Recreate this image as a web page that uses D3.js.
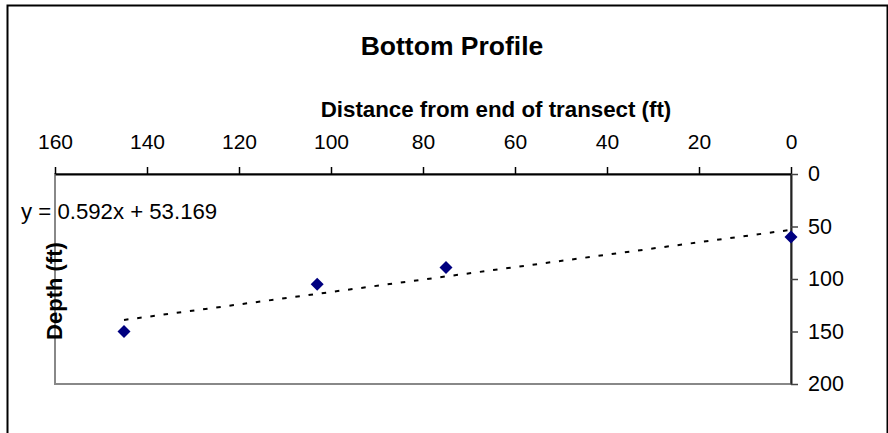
<!DOCTYPE html>
<html>
<head>
<meta charset="utf-8">
<script src="https://cdn.jsdelivr.net/npm/d3@7"></script>
<style>
  html, body { margin: 0; padding: 0; background: #fff; }
  svg { display: block; font-family: "Liberation Sans", Arial, sans-serif; }
</style>
</head>
<body>
<svg id="chart" width="888" height="433"></svg>
<script>
// Survey points along the transect
const distance = [145, 103, 75, 0];   // ft from end of transect
const depth = [150, 105, 89, 60];     // ft

// Axis ticks
const xTicks = [160, 140, 120, 100, 80, 60, 40, 20, 0];
const yTicks = [0, 50, 100, 150, 200];

// Linear trend line (least squares fit shown on the chart)
const trendSlope = [0.592];
const trendIntercept = [53.169];
const trendRange = [145, 0];

const svg = d3.select("#chart");

// Outer chart frame
svg.append("rect")
  .attr("x", 7.5).attr("y", 5.5)
  .attr("width", 880).attr("height", 440)
  .attr("fill", "none").attr("stroke", "#000").attr("stroke-width", 2);

const plot = { left: 55, right: 791, top: 174, bottom: 384 };

const x = d3.scaleLinear().domain([160, 0]).range([plot.left, plot.right]);
const y = d3.scaleLinear().domain([0, 200]).range([plot.top, plot.bottom]);

// Plot area border (gray)
svg.append("rect")
  .attr("x", plot.left).attr("y", plot.top)
  .attr("width", plot.right - plot.left).attr("height", plot.bottom - plot.top)
  .attr("fill", "none").attr("stroke", "#888").attr("stroke-width", 2);

// Title
svg.append("text")
  .attr("x", 452).attr("y", 55)
  .attr("text-anchor", "middle")
  .attr("font-size", 26.5).attr("font-weight", "bold")
  .text("Bottom Profile");

// Top x axis
const xAxis = svg.append("g")
  .attr("transform", `translate(0,${plot.top})`)
  .call(d3.axisTop(x).tickValues(xTicks).tickSize(7).tickSizeOuter(0).tickPadding(18));
xAxis.select(".domain").attr("stroke", "#000").attr("stroke-width", 2);
xAxis.selectAll(".tick line").attr("stroke", "#000").attr("stroke-width", 1.5);
xAxis.selectAll(".tick text")
  .attr("font-size", 21).attr("font-family", "Liberation Sans, Arial, sans-serif")
  .attr("fill", "#000").attr("dy", "0em");

svg.append("text")
  .attr("x", 496).attr("y", 117)
  .attr("text-anchor", "middle")
  .attr("font-size", 22.3).attr("font-weight", "bold")
  .text("Distance from end of transect (ft)");

// Right y axis
const yAxis = svg.append("g")
  .attr("transform", `translate(${plot.right},0)`)
  .call(d3.axisRight(y).tickValues(yTicks).tickSize(7).tickSizeOuter(0).tickPadding(10));
yAxis.select(".domain").attr("stroke", "#222").attr("stroke-width", 2);
yAxis.selectAll(".tick line").attr("stroke", "#444").attr("stroke-width", 1.5);
yAxis.selectAll(".tick text")
  .attr("font-size", 21.5).attr("font-family", "Liberation Sans, Arial, sans-serif")
  .attr("fill", "#000");

svg.append("text")
  .attr("transform", "translate(62,291) rotate(-90)")
  .attr("text-anchor", "middle")
  .attr("font-size", 22).attr("font-weight", "bold")
  .text("Depth (ft)");

// Trend line
const trend = trendRange.map(d => ({ dx: d, dy: trendSlope[0] * d + trendIntercept[0] }));
svg.append("path")
  .datum(trend)
  .attr("d", d3.line().x(d => x(d.dx)).y(d => y(d.dy)))
  .attr("fill", "none").attr("stroke", "#000")
  .attr("stroke-width", 2).attr("stroke-dasharray", "4.5,8.8");

// Equation label
svg.append("text")
  .attr("x", 21).attr("y", 219)
  .attr("font-size", 22.2)
  .text(`y = ${trendSlope[0]}x + ${trendIntercept[0]}`);

// Data markers
const pts = distance.map((d, i) => ({ dx: d, dy: depth[i] }));
svg.append("g").selectAll("path")
  .data(pts)
  .join("path")
  .attr("transform", d => `translate(${x(d.dx)},${y(d.dy)})`)
  .attr("d", "M0,-6.5L6.5,0L0,6.5L-6.5,0Z")
  .attr("fill", "#000080");
</script>
</body>
</html>
